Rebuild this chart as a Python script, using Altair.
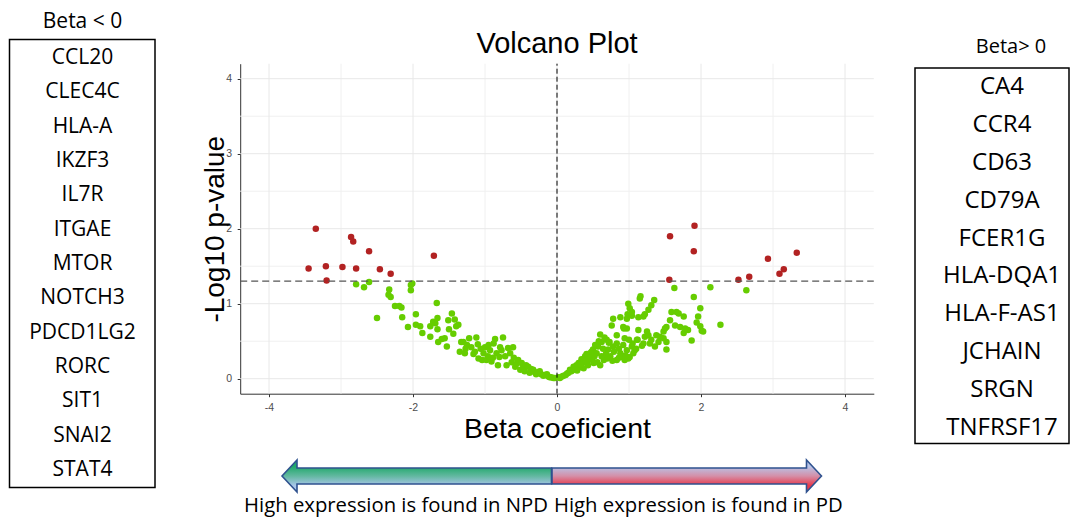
import altair as alt
import pandas as pd

# ---------------- data ----------------
# significant genes (red), (beta, -log10 p)
sig_left = [(-3.45, 1.47), (-3.35, 2.00), (-3.21, 1.50), (-3.20, 1.31), (-2.98, 1.49),
            (-2.86, 1.89), (-2.83, 1.83), (-2.79, 1.47), (-2.61, 1.70), (-2.46, 1.46),
            (-2.31, 1.40), (-1.71, 1.64)]
sig_right = [(1.57, 1.90), (1.91, 2.04), (1.90, 1.70), (1.56, 1.32), (2.52, 1.32),
             (2.67, 1.36), (2.93, 1.60), (3.09, 1.40), (3.15, 1.46), (3.33, 1.68)]

# non-significant genes (green)
ns_left = [(-2.79, 1.26), (-2.68, 1.22), (-2.61, 1.29), (-2.50, 0.81), (-2.33, 1.19), (-2.34, 1.12),
           (-2.31, 1.09), (-2.25, 0.97), (-2.19, 0.97), (-2.16, 0.95), (-2.15, 0.82), (-2.07, 0.69),
           (-2.03, 1.18), (-2.03, 1.25), (-2.01, 1.27), (-1.96, 0.86), (-1.96, 0.72), (-1.90, 0.70),
           (-1.87, 0.61), (-1.76, 0.70), (-1.76, 0.56), (-1.72, 0.76), (-1.69, 0.74), (-1.67, 1.01),
           (-1.66, 0.81), (-1.66, 0.66), (-1.65, 0.49), (-1.60, 0.53), (-1.56, 0.54), (-1.53, 0.43),
           (-1.51, 0.78), (-1.50, 0.66), (-1.46, 0.87), (-1.44, 0.60), (-1.42, 0.79), (-1.40, 0.70),
           (-1.37, 0.72), (-1.35, 0.36), (-1.33, 0.49), (-1.30, 0.49), (-1.28, 0.34), (-1.25, 0.45),
           (-1.22, 0.54), (-1.19, 0.42), (-1.16, 0.33), (-1.12, 0.55), (-1.09, 0.27), (-1.06, 0.40),
           (-1.04, 0.25), (-1.02, 0.34), (-1.00, 0.42), (-0.98, 0.25), (-0.96, 0.30), (-0.93, 0.38),
           (-0.91, 0.23), (-0.89, 0.28), (-0.88, 0.47), (-0.86, 0.53), (-0.84, 0.34), (-0.82, 0.18),
           (-0.80, 0.29), (-0.79, 0.42), (-0.77, 0.38), (-0.75, 0.55), (-0.72, 0.30), (-0.70, 0.18),
           (-0.68, 0.41), (-0.65, 0.34), (-0.63, 0.22), (-0.61, 0.42), (-0.60, 0.28), (-0.58, 0.16),
           (-0.56, 0.20), (-0.54, 0.25), (-0.51, 0.12), (-0.49, 0.21), (-0.47, 0.15), (-0.45, 0.10),
           (-0.43, 0.18), (-0.40, 0.16), (-0.38, 0.08), (-0.36, 0.13), (-0.33, 0.12), (-0.31, 0.09),
           (-0.29, 0.06), (-0.27, 0.08), (-0.24, 0.10), (-0.22, 0.06), (-0.19, 0.04), (-0.17, 0.05),
           (-0.14, 0.06), (-0.12, 0.03), (-0.10, 0.02), (-0.08, 0.02), (-0.05, 0.01), (-0.03, 0.01),
           (-1.14, 0.36), (-1.27, 0.40), (-0.95, 0.45), (-1.10, 0.46)]
ns_right = [(1.63, 1.21), (2.13, 1.22), (2.63, 1.18), (1.90, 1.09), (2.27, 0.72), (1.16, 1.10),
            (1.15, 1.07), (1.35, 1.05), (1.31, 0.98), (1.27, 0.92), (0.99, 1.00), (1.01, 0.94),
            (0.98, 0.86), (1.04, 0.84), (1.13, 0.82), (1.22, 0.86), (0.88, 0.82), (0.78, 0.80),
            (0.76, 0.71), (0.93, 0.67), (1.13, 0.65), (1.25, 0.63), (1.12, 0.52), (1.22, 0.56),
            (1.29, 0.47), (1.36, 0.43), (1.43, 0.56), (1.48, 0.63), (1.52, 0.69), (1.52, 0.39),
            (1.52, 0.49), (1.57, 0.78), (1.59, 0.89), (1.66, 0.89), (1.64, 0.71), (1.71, 0.69),
            (1.76, 0.83), (1.76, 0.61), (1.82, 0.65), (1.87, 0.51), (1.94, 0.75), (1.96, 0.83),
            (1.99, 0.94), (1.99, 0.70), (2.01, 0.64), (2.03, 0.63), (1.20, 0.83), (1.04, 0.89),
            (0.97, 0.80), (0.97, 0.67), (0.94, 0.54), (1.11, 0.52), (1.27, 0.58), (1.31, 0.52),
            (1.38, 0.58), (1.41, 0.49), (1.48, 0.54), (1.50, 0.67), (1.69, 0.87), (1.78, 0.67),
            (1.04, 0.43), (0.97, 0.38), (1.08, 0.38), (1.20, 0.47), (0.99, 0.27), (0.94, 0.25),
            (0.60, 0.59), (0.62, 0.49), (0.57, 0.43), (0.50, 0.39), (0.46, 0.34), (0.39, 0.30),
            (0.34, 0.26), (0.30, 0.21), (0.23, 0.16), (0.18, 0.12), (0.14, 0.07), (0.09, 0.04),
            (0.04, 0.01), (0.02, 0.02), (0.66, 0.55), (0.69, 0.52), (0.72, 0.48), (0.53, 0.45),
            (0.48, 0.36), (0.41, 0.33), (0.36, 0.22), (0.27, 0.18), (0.20, 0.10), (0.12, 0.05),
            (0.07, 0.03), (0.83, 0.58), (0.73, 0.49), (0.92, 0.69), (0.37, 0.14), (0.60, 0.18),
            (0.83, 0.25), (1.01, 0.29), (1.06, 0.34), (0.88, 0.34), (0.74, 0.30), (0.65, 0.25),
            (0.51, 0.21), (0.42, 0.21), (0.46, 0.28), (0.71, 0.39), (0.78, 0.43), (0.83, 0.47),
            (0.55, 0.34), (0.25, 0.12), (0.31, 0.15), (0.43, 0.18), (0.49, 0.25), (0.56, 0.22),
            (0.62, 0.30), (0.68, 0.33), (0.79, 0.36), (0.90, 0.29), (0.95, 0.31), (1.10, 0.40),
            (1.18, 0.44), (0.86, 0.40), (0.92, 0.45), (1.05, 0.47), (1.00, 0.52), (0.64, 0.40),
            (0.58, 0.50), (0.52, 0.30), (0.40, 0.24), (0.33, 0.19), (0.28, 0.11), (0.16, 0.08),
            (0.70, 0.27), (0.77, 0.24), (0.86, 0.28)]

genes_neg = ["CCL20", "CLEC4C", "HLA-A", "IKZF3", "IL7R", "ITGAE", "MTOR", "NOTCH3",
             "PDCD1LG2", "RORC", "SIT1", "SNAI2", "STAT4"]
genes_pos = ["CA4", "CCR4", "CD63", "CD79A", "FCER1G", "HLA-DQA1", "HLA-F-AS1",
             "JCHAIN", "SRGN", "TNFRSF17"]

x_ticks = [-4, -2, 0, 2, 4]
y_ticks = [0, 1, 2, 3, 4]
x_minor = [-3, -1, 1, 3]
y_minor = [0.5, 1.5, 2.5, 3.5]
x_domain = [-4.4, 4.4]
y_domain = [-0.2, 4.2]
p_cut = 1.301          # -log10(0.05)

title_txt = "Volcano Plot"
x_title = "Beta coeficient"
y_title = "-Log10 p-value"
neg_head = "Beta < 0"
pos_head = "Beta> 0"
cap_left = "High expression is found in NPD"
cap_right = "High expression is found in PD"

# ---------------- layout ----------------
W, H = 1062, 509
XR = [232.2, 865.8]
YR = [385.7, 55.7]
GREEN, RED = "#66CD00", "#B22222"
AX_FONT = "Liberation Sans"
TXT_FONT = "Open Sans"

rows = ([{"beta": b, "logp": p, "grp": "ns"} for b, p in ns_left + ns_right] +
        [{"beta": b, "logp": p, "grp": "sig"} for b, p in sig_left + sig_right])
pts = pd.DataFrame(rows)

xs = alt.Scale(domain=x_domain, range=XR, nice=False, zero=False)
ys = alt.Scale(domain=y_domain, range=YR, nice=False, zero=False)

ax_x = alt.Axis(values=x_ticks, labelExpr="datum.value + ''", grid=False, title=x_title,
                offset=-(H - YR[0]),
                domainColor="#333333", tickColor="#333333", tickSize=3,
                labelColor="#4D4D4D", labelFont=AX_FONT, labelFontSize=10.5, labelPadding=6,
                titleFont=AX_FONT, titleFontSize=28.5, titleFontWeight="normal",
                titleColor="black", titleY=21)
ax_y = alt.Axis(values=y_ticks, labelExpr="datum.value + ''", grid=False, title=y_title,
                offset=-XR[0],
                domainColor="#333333", tickColor="#333333", tickSize=3,
                labelColor="#4D4D4D", labelFont=AX_FONT, labelFontSize=10.5, labelPadding=5.5,
                titleFont=AX_FONT, titleFontSize=28, titleFontWeight="normal",
                titleColor="black", titleX=-11)

one = pd.DataFrame({"a": [0]})

vmaj = alt.Chart(pd.DataFrame({"beta": x_ticks})).mark_rule(color="#E8E8E8", strokeWidth=1).encode(
    x=alt.X("beta:Q", scale=xs, axis=ax_x), y=alt.datum(y_domain[0]), y2=alt.datum(y_domain[1]))
vmin = alt.Chart(pd.DataFrame({"beta": x_minor})).mark_rule(color="#F0F0F0", strokeWidth=1).encode(
    x=alt.X("beta:Q", scale=xs, axis=ax_x), y=alt.datum(y_domain[0]), y2=alt.datum(y_domain[1]))
hmaj = alt.Chart(pd.DataFrame({"logp": y_ticks})).mark_rule(color="#E8E8E8", strokeWidth=1).encode(
    y=alt.Y("logp:Q", scale=ys, axis=ax_y), x=alt.datum(x_domain[0]), x2=alt.datum(x_domain[1]))
hmin = alt.Chart(pd.DataFrame({"logp": y_minor})).mark_rule(color="#F0F0F0", strokeWidth=1).encode(
    y=alt.Y("logp:Q", scale=ys, axis=ax_y), x=alt.datum(x_domain[0]), x2=alt.datum(x_domain[1]))

points = alt.Chart(pts).mark_circle(size=42, opacity=1).encode(
    x=alt.X("beta:Q", scale=xs, axis=ax_x),
    y=alt.Y("logp:Q", scale=ys, axis=ax_y),
    color=alt.Color("grp:N", scale=alt.Scale(domain=["ns", "sig"], range=[GREEN, RED]), legend=None))

vline = alt.Chart(one).mark_rule(color="black", strokeWidth=1, strokeDash=[5, 3]).encode(
    x=alt.datum(0), y=alt.datum(y_domain[0]), y2=alt.datum(y_domain[1]))
hline = alt.Chart(one).mark_rule(color="#555555", strokeWidth=1.3, strokeDash=[7, 4]).encode(
    y=alt.datum(p_cut), x=alt.datum(x_domain[0]), x2=alt.datum(x_domain[1]))

main = alt.layer(vmin, hmin, vmaj, hmaj, points, vline, hline)

title = alt.Chart(one).mark_text(text=title_txt, font=AX_FONT, fontSize=29, color="black").encode(
    x=alt.value(549), y=alt.value(36))

# gene list boxes
lbox = alt.Chart(one).mark_rect(filled=False, stroke="black", strokeWidth=1.5).encode(
    x=alt.value(1.5), x2=alt.value(147), y=alt.value(31.5), y2=alt.value(479.5))
lhead = alt.Chart(one).mark_text(text=neg_head, font=TXT_FONT, fontSize=21, color="black").encode(
    x=alt.value(74.5), y=alt.value(14))
lgenes = alt.Chart(pd.DataFrame({"gene": genes_neg, "i": list(range(len(genes_neg)))})).mark_text(
    font=TXT_FONT, fontSize=21, color="black").encode(
    text="gene:N", x=alt.value(74.5),
    y=alt.Y("i:Q", scale=alt.Scale(domain=[0, len(genes_neg) - 1], range=[50, 462]), axis=None))

rbox = alt.Chart(one).mark_rect(filled=False, stroke="black", strokeWidth=1.5).encode(
    x=alt.value(907), x2=alt.value(1061), y=alt.value(60), y2=alt.value(435.5))
rhead = alt.Chart(one).mark_text(text=pos_head, font=TXT_FONT, fontSize=20, color="black").encode(
    x=alt.value(1003), y=alt.value(39))
rgenes = alt.Chart(pd.DataFrame({"gene": genes_pos, "i": list(range(len(genes_pos)))})).mark_text(
    font=TXT_FONT, fontSize=24, color="black").encode(
    text="gene:N", x=alt.value(994),
    y=alt.Y("i:Q", scale=alt.Scale(domain=[0, len(genes_pos) - 1], range=[78.7, 420.3]), axis=None))

# double arrow (two halves, each a single outlined shape)
left_half = "M -134.75 0 L -119.75 -16 L -119.75 -8 L 134.75 -8 L 134.75 8 L -119.75 8 L -119.75 16 Z"
right_half = "M 134.75 0 L 119.75 -16 L 119.75 -8 L -134.75 -8 L -134.75 8 L 119.75 8 L 119.75 16 Z"
g_left = alt.LinearGradient(gradient="linear", x1=0, y1=0, x2=0, y2=1, stops=[
    alt.GradientStop(color="#20A86A", offset=0.2), alt.GradientStop(color="#62B8A0", offset=0.5),
    alt.GradientStop(color="#A9C6EA", offset=0.8)])
g_right = alt.LinearGradient(gradient="linear", x1=0, y1=0, x2=0, y2=1, stops=[
    alt.GradientStop(color="#B8C4E8", offset=0.2), alt.GradientStop(color="#D48FA8", offset=0.5),
    alt.GradientStop(color="#E8384A", offset=0.8)])
arr_l = alt.Chart(one).mark_point(shape=left_half, size=4, filled=True, fill=g_left, opacity=1,
                                  stroke="#2F528F", strokeWidth=1.6, strokeJoin="miter").encode(
    x=alt.value(408.75), y=alt.value(468))
arr_r = alt.Chart(one).mark_point(shape=right_half, size=4, filled=True, fill=g_right, opacity=1,
                                  stroke="#2F528F", strokeWidth=1.6, strokeJoin="miter").encode(
    x=alt.value(678.75), y=alt.value(468))

capl = alt.Chart(one).mark_text(text=cap_left, font=TXT_FONT, fontSize=20.3, align="right",
                                baseline="alphabetic", color="black").encode(
    x=alt.value(540), y=alt.value(503.5))
capr = alt.Chart(one).mark_text(text=cap_right, font=TXT_FONT, fontSize=20.3, align="left",
                                baseline="alphabetic", color="black").encode(
    x=alt.value(546), y=alt.value(503.5))

chart = alt.layer(main, title, lbox, lhead, lgenes, rbox, rhead, rgenes, arr_l, arr_r, capl, capr
                  ).resolve_scale(x="independent", y="independent").properties(
    width=W, height=H, padding=0, autosize=alt.AutoSizeParams(type="none")
).configure_view(stroke=None)

chart.save("out.html", embed_options={"renderer": "svg", "actions": False})
